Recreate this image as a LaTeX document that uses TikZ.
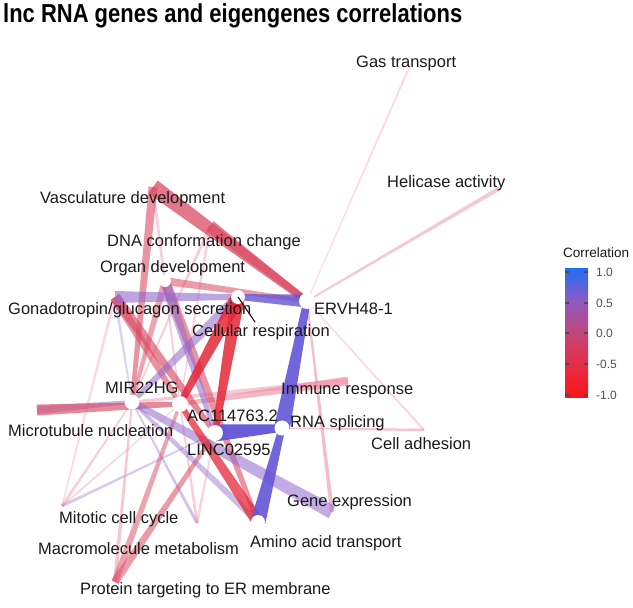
\documentclass[tikz,border=0pt]{standalone}
\usepackage{fontspec}
\setmainfont{Liberation Sans}
\usepackage{graphicx}
\usetikzlibrary{calc}

\definecolor{labelgray}{RGB}{26, 26, 26}
\definecolor{tickgray}{RGB}{80, 80, 80}
\definecolor{corblue}{RGB}{30, 110, 245}
\definecolor{corpurple}{RGB}{140, 90, 195}
\definecolor{cormid}{RGB}{195, 70, 120}
\definecolor{corrose}{RGB}{230, 45, 70}
\definecolor{corred}{RGB}{250, 20, 25}
\definecolor{edgeblue}{RGB}{100, 85, 215}
\definecolor{edgepurple}{RGB}{145, 105, 205}
\definecolor{edgered}{RGB}{228, 40, 55}
\definecolor{edgerose}{RGB}{220, 75, 100}
\definecolor{edgepink}{RGB}{238, 135, 160}

\pgfdeclareverticalshading{corrbar}{100bp}{color(0bp)=(corred); color(25bp)=(corred);
  color(37.5bp)=(corrose); color(50bp)=(cormid); color(62.5bp)=(corpurple);
  color(75bp)=(corblue); color(100bp)=(corblue)}

% tapered edge: thin at #1, wide at #2
\newcommand{\corredge}[5]{%
  \pgfmathsetmacro{\wedgewide}{0.5*#3}%
  \pgfmathsetmacro{\wedgethin}{0.22*#3}%
  \fill[fill=#4, opacity=#5]
    ($(#1)!\wedgethin pt!90:(#2)$) -- ($(#2)!\wedgewide pt!-90:(#1)$) --
    ($(#2)!\wedgewide pt!90:(#1)$) -- ($(#1)!\wedgethin pt!-90:(#2)$) -- cycle;
}

\begin{document}
\begin{tikzpicture}[x=1pt, y=-1pt,
    termlabel/.style={anchor=west, inner sep=0pt, text=labelgray, font=\fontsize{16.5}{19}\selectfont},
    genedot/.style={circle, fill=white, draw=none, inner sep=0pt, minimum size=#1},
    genedot/.default=16pt]
  \fill[white] (0,0) rectangle (633,608);
  \useasboundingbox (0,0) rectangle (633,608);

  % Title
  \node[anchor=west, inner sep=0pt, font=\fontsize{26}{30}\selectfont\bfseries] (title) at (3,16)
    {\scalebox{0.845}[1]{lnc RNA genes and eigengenes correlations}};

  % Node positions
  \coordinate (ervh) at (307,301);
  \coordinate (resp) at (238,297);
  \coordinate (organ) at (165,281);
  \coordinate (mir) at (132,402);
  \coordinate (ac) at (180,404);
  \coordinate (linc) at (215,433);
  \coordinate (rnas) at (282,428);
  \coordinate (amino) at (258,522);
  \coordinate (vasc) at (153,187);
  \coordinate (dna) at (210,226);
  \coordinate (gonad) at (115,297);
  \coordinate (micro) at (37,410);
  \coordinate (immune) at (348,381);
  \coordinate (celladh) at (424,430);
  \coordinate (geneexp) at (332,512);
  \coordinate (mitotic) at (62,506);
  \coordinate (macro) at (197,523);
  \coordinate (protein) at (115,582);
  \coordinate (gas) at (408,70);
  \coordinate (helic) at (500,188);
  \coordinate (rslash) at (255,322);

  % Faint edges
  \foreach \a/\b/\w/\c/\o in {
      ervh/gas/2/edgepink/0.3, ervh/helic/4/edgepink/0.45, ervh/celladh/2/edgepink/0.35,
      rnas/celladh/2.5/edgepink/0.5, ervh/geneexp/4/edgepink/0.55,
      ac/vasc/3/edgepink/0.4, mir/dna/3/edgepink/0.4, ac/dna/3/edgepink/0.35,
      mir/gonad/3/edgepurple/0.3, mitotic/gonad/3/edgepink/0.3,
      mir/mitotic/3/edgepink/0.4, linc/mitotic/3/edgepurple/0.35, ac/mitotic/2/edgepink/0.35,
      mir/macro/3/edgepurple/0.4, ac/macro/3/edgepink/0.4, linc/macro/3/edgepink/0.35,
      mir/protein/4/edgepink/0.45, ac/protein/7/edgerose/0.5, linc/protein/8/edgerose/0.55,
      mir/immune/6/edgepink/0.45, ac/immune/9/edgepink/0.6} {
    \corredge{\a}{\b}{\w}{\c}{\o}
  }

  % Main edges
  \foreach \a/\b/\w/\c/\o in {
      mir/vasc/9/edgerose/0.6, ervh/organ/8/edgerose/0.55, mir/organ/7/edgerose/0.5,
      ac/gonad/10/edgerose/0.6, linc/gonad/11/edgerose/0.65, amino/organ/10/edgerose/0.6,
      mir/micro/8/edgepurple/0.5, ac/micro/11/edgerose/0.65,
      mir/resp/11/edgepurple/0.55, linc/organ/10/edgepurple/0.55, mir/amino/7/edgepurple/0.45,
      mir/geneexp/14/edgepurple/0.55, resp/gonad/12/edgepurple/0.6,
      ervh/vasc/16/edgerose/0.75, ervh/dna/12/edgerose/0.7,
      ac/resp/14/edgered/0.85, linc/resp/14/edgered/0.85, ac/amino/12/edgered/0.75,
      resp/ervh/13/edgeblue/0.8, ervh/rnas/16/edgeblue/0.9, rnas/amino/15/edgeblue/0.9,
      rnas/linc/17/edgeblue/0.95} {
    \corredge{\a}{\b}{\w}{\c}{\o}
  }

  % Gene circles
  \node[genedot=16pt] (d-ervh) at (ervh) {};
  \node[genedot=14pt] (d-resp) at (resp) {};
  \node[genedot=12pt] (d-organ) at (organ) {};
  \node[genedot=15pt] (d-mir) at (mir) {};
  \node[genedot=16pt] (d-ac) at (ac) {};
  \node[genedot=16pt] (d-linc) at (linc) {};
  \node[genedot=15pt] (d-rnas) at (rnas) {};
  \node[genedot=14pt] (d-amino) at (amino) {};
  \draw[black, line width=1pt] (resp) -- (rslash);

  % Labels
  \node[termlabel] (t-gas) at (356,63) {Gas transport};
  \node[termlabel] (t-helic) at (387,183) {Helicase activity};
  \node[termlabel] (t-vasc) at (40,199) {Vasculature development};
  \node[termlabel] (t-dna) at (107,242) {DNA conformation change};
  \node[termlabel] (t-organ) at (100,268) {Organ development};
  \node[termlabel] (t-gonad) at (8,310) {Gonadotropin/glucagon secretion};
  \node[termlabel] (t-resp) at (192,332) {Cellular respiration};
  \node[termlabel] (t-ervh) at (314,309) {ERVH48-1};
  \node[termlabel] (t-immune) at (281,391) {Immune response};
  \node[termlabel] (t-rnas) at (290,423) {RNA splicing};
  \node[termlabel] (t-celladh) at (371,444) {Cell adhesion};
  \node[termlabel] (t-mir) at (105,388) {MIR22HG};
  \node[termlabel] (t-ac) at (187,416) {AC114763.2};
  \node[termlabel] (t-micro) at (8,431) {Microtubule nucleation};
  \node[termlabel] (t-linc) at (187,450) {LINC02595};
  \node[termlabel] (t-geneexp) at (287,502) {Gene expression};
  \node[termlabel] (t-mitotic) at (59,519) {Mitotic cell cycle};
  \node[termlabel] (t-macro) at (38,549) {Macromolecule metabolism};
  \node[termlabel] (t-amino) at (250,543) {Amino acid transport};
  \node[termlabel] (t-protein) at (80,590) {Protein targeting to ER membrane};

  % Legend
  \node[anchor=west, inner sep=0pt, text=labelgray, font=\fontsize{13.5}{15}\selectfont] (leg-title) at (563,253) {Correlation};
  \shade[shading=corrbar] (565,268) rectangle (588,397);
  \foreach \y/\lbl in {272/1.0, 303/0.5, 333/0.0, 364/-0.5, 395/-1.0} {
    \draw[black!70, line width=1.2pt] (565,\y) -- (569,\y);
    \draw[black!70, line width=1.2pt] (584,\y) -- (588,\y);
    \node[anchor=west, inner sep=0pt, text=tickgray, font=\fontsize{12}{14}\selectfont] (tick\y) at (596,\y) {\lbl};
  }
\end{tikzpicture}
\end{document}
